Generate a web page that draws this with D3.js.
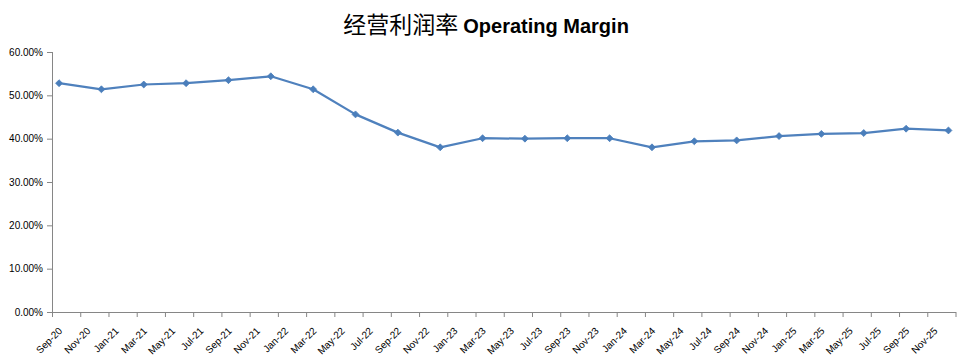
<!DOCTYPE html>
<html>
<head>
<meta charset="utf-8">
<script src="https://cdn.jsdelivr.net/npm/d3@7"></script>
<style>
	body { margin: 0; background: #fff; }
	svg { display: block; }
	.tick text { font-family: "Liberation Sans", Arial, sans-serif; font-size: 10px; fill: #000; }
	.axis path, .axis line { stroke: #868686; }
</style>
</head>
<body>
<div id="chart"></div>
<script>
/* global d3 */

// Quarter-end months and operating margin (%)
var quarters = ['Sep-20', 'Dec-20', 'Mar-21', 'Jun-21', 'Sep-21', 'Dec-21', 'Mar-22', 'Jun-22',
	'Sep-22', 'Dec-22', 'Mar-23', 'Jun-23', 'Sep-23', 'Dec-23', 'Mar-24', 'Jun-24',
	'Sep-24', 'Dec-24', 'Mar-25', 'Jun-25', 'Sep-25', 'Dec-25'];
var margins = [52.8, 51.4, 52.5, 52.8, 53.5, 54.4, 51.4, 45.6,
	41.4, 38.0, 40.1, 40.0, 40.1, 40.1, 38.0, 39.4,
	39.6, 40.6, 41.1, 41.3, 42.3, 41.9];

// Axis labels
var xTickLabels = ['Sep-20', 'Nov-20', 'Jan-21', 'Mar-21', 'May-21', 'Jul-21', 'Sep-21', 'Nov-21',
	'Jan-22', 'Mar-22', 'May-22', 'Jul-22', 'Sep-22', 'Nov-22', 'Jan-23', 'Mar-23',
	'May-23', 'Jul-23', 'Sep-23', 'Nov-23', 'Jan-24', 'Mar-24', 'May-24', 'Jul-24',
	'Sep-24', 'Nov-24', 'Jan-25', 'Mar-25', 'May-25', 'Jul-25', 'Sep-25', 'Nov-25'];
var yTicks = [0, 10, 20, 30, 40, 50, 60];

var titleZh = '经营利润率';
var titleEn = 'Operating Margin';

(function() {

	var outerWidth = 975,
		outerHeight = 359,
		margin = { top: 52, left: 52, right: 19.5, bottom: 47 },
		width = outerWidth - margin.left - margin.right,
		height = outerHeight - margin.top - margin.bottom;

	var parse = d3.timeParse('%b-%y');

	// month index relative to first label, Excel-style equal months
	var start = parse(xTickLabels[0]);
	function monthIndex(label) {
		var d = parse(label);
		return (d.getFullYear() - start.getFullYear()) * 12 + d.getMonth() - start.getMonth();
	}
	var lastIndex = monthIndex(xTickLabels[xTickLabels.length - 1]) + 2;

	var xScale = d3.scaleLinear()
		.domain([0, lastIndex])
		.range([0, width]);

	var yScale = d3.scaleLinear()
		.domain([0, 60])
		.range([height, 0]);

	var svg = d3.select('#chart').append('svg')
		.attr('width', outerWidth)
		.attr('height', outerHeight);

	// Title
	var title = svg.append('text')
		.attr('x', 486)
		.attr('y', 33)
		.attr('text-anchor', 'middle');
	title.append('tspan')
		.style('font-family', '"Noto Sans CJK SC", sans-serif')
		.style('font-size', '23px')
		.text(titleZh + ' ');
	title.append('tspan')
		.style('font-family', '"Liberation Sans", Arial, sans-serif')
		.style('font-weight', 'bold')
		.style('font-size', '20px')
		.text(titleEn);

	var g = svg.append('g')
		.attr('transform', 'translate(' + margin.left + ',' + margin.top + ')');

	// y-axis
	var yAxis = d3.axisLeft(yScale)
		.tickValues(yTicks)
		.tickSize(5)
		.tickPadding(4)
		.tickFormat(function(d) { return d.toFixed(2) + '%'; });
	g.append('g').attr('class', 'axis y-axis').call(yAxis)
		.select('.domain').attr('d', 'M0.5,' + height + 'V0');

	// x-axis
	var tickIdx = xTickLabels.map(monthIndex).concat([lastIndex]);
	var xAxis = d3.axisBottom(xScale)
		.tickValues(tickIdx)
		.tickSize(5)
		.tickSizeOuter(0)
		.tickFormat(function(d, i) { return xTickLabels[i] || ''; });
	var gx = g.append('g').attr('class', 'axis x-axis')
		.attr('transform', 'translate(0,' + height + ')')
		.call(xAxis);
	gx.selectAll('.tick text')
		.attr('text-anchor', 'end')
		.attr('dy', '0.35em')
		.attr('x', 0)
		.attr('y', 0)
		.attr('transform', 'translate(8,17) rotate(-45)');

	// Line + markers, points placed mid-month
	var pts = quarters.map(function(q, i) {
		return { x: xScale(monthIndex(q) + 0.5), y: yScale(margins[i]) };
	});

	g.append('path')
		.datum(pts)
		.attr('fill', 'none')
		.attr('stroke', '#4F81BD')
		.attr('stroke-width', 2.25)
		.attr('stroke-linejoin', 'round')
		.attr('d', d3.line().x(function(d) { return d.x; }).y(function(d) { return d.y; }));

	g.append('g').attr('class', 'markers')
		.selectAll('path')
		.data(pts)
		.enter()
		.append('path')
		.attr('transform', function(d) { return 'translate(' + d.x + ',' + d.y + ') rotate(45)'; })
		.attr('d', d3.symbol().type(d3.symbolSquare).size(24))
		.attr('fill', '#4A7EBB')
		.attr('stroke', '#4A7EBB')
		.attr('stroke-width', 0.75);

})();
</script>
</body>
</html>
